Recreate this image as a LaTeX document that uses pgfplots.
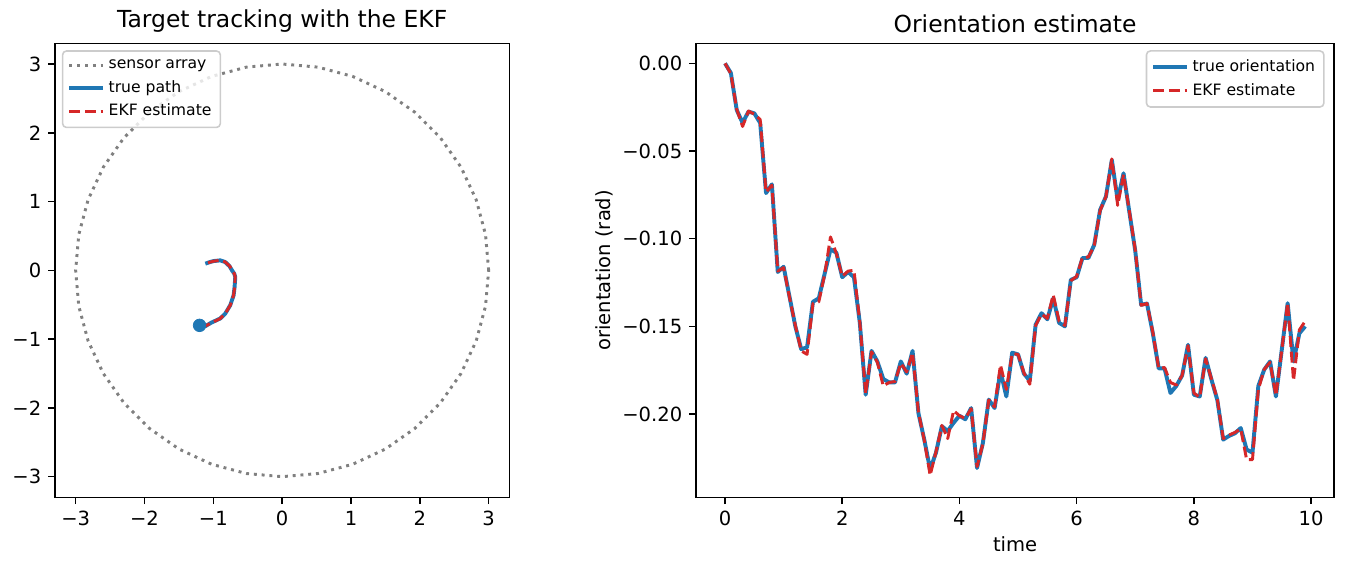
\documentclass[border=0pt]{standalone}
\usepackage{fontspec}
\setmainfont{DejaVu Sans}
\usepackage{pgfplots}
\usepackage{pgfplotstable}
\pgfplotsset{compat=1.18}
\definecolor{tabblue}{HTML}{1F77B4}
\definecolor{tabred}{HTML}{D62728}
\definecolor{leggray}{HTML}{CCCCCC}

\pgfplotstableread{
t v
0.0 0.000
0.1 -0.0055
0.2 -0.0266
0.3 -0.034
0.4 -0.0275
0.5 -0.0285
0.6 -0.034
0.7 -0.074
0.8 -0.069
0.9 -0.119
1.0 -0.116
1.1 -0.133
1.2 -0.150
1.3 -0.163
1.4 -0.162
1.5 -0.136
1.6 -0.134
1.7 -0.120
1.8 -0.106
1.9 -0.108
2.0 -0.122
2.1 -0.119
2.2 -0.122
2.3 -0.148
2.4 -0.189
2.5 -0.164
2.6 -0.170
2.7 -0.180
2.8 -0.182
2.9 -0.182
3.0 -0.170
3.1 -0.177
3.2 -0.164
3.3 -0.1995
3.4 -0.2146
3.5 -0.2317
3.6 -0.222
3.7 -0.207
3.8 -0.2097
3.9 -0.205
4.0 -0.201
4.1 -0.203
4.2 -0.1966
4.3 -0.2308
4.4 -0.2165
4.5 -0.1918
4.6 -0.1966
4.7 -0.1755
4.8 -0.190
4.9 -0.165
5.0 -0.166
5.1 -0.177
5.2 -0.181
5.3 -0.149
5.4 -0.1425
5.5 -0.146
5.6 -0.134
5.7 -0.148
5.8 -0.150
5.9 -0.1235
6.0 -0.122
6.1 -0.111
6.2 -0.111
6.3 -0.1035
6.4 -0.0836
6.5 -0.0759
6.6 -0.0551
6.7 -0.078
6.8 -0.0627
6.9 -0.085
7.0 -0.107
7.1 -0.1377
7.2 -0.137
7.3 -0.154
7.4 -0.174
7.5 -0.174
7.6 -0.188
7.7 -0.184
7.8 -0.178
7.9 -0.1605
8.0 -0.189
8.1 -0.190
8.2 -0.168
8.3 -0.1804
8.4 -0.192
8.5 -0.2146
8.6 -0.2125
8.7 -0.211
8.8 -0.208
8.9 -0.2203
9.0 -0.222
9.1 -0.184
9.2 -0.1747
9.3 -0.170
9.4 -0.190
9.5 -0.1633
9.6 -0.1368
9.7 -0.170
9.8 -0.154
9.9 -0.150
}\truetab

\pgfplotstableread{
t v
0.0 0.000
0.1 -0.0060
0.2 -0.0262
0.3 -0.036
0.4 -0.0272
0.5 -0.0290
0.6 -0.032
0.7 -0.0735
0.8 -0.0695
0.9 -0.1185
1.0 -0.1165
1.1 -0.1335
1.2 -0.1495
1.3 -0.1640
1.4 -0.166
1.5 -0.137
1.6 -0.136
1.7 -0.1205
1.8 -0.099
1.9 -0.1085
2.0 -0.1215
2.1 -0.1185
2.2 -0.118
2.3 -0.1475
2.4 -0.1885
2.5 -0.1645
2.6 -0.1705
2.7 -0.184
2.8 -0.1820
2.9 -0.1815
3.0 -0.1710
3.1 -0.1760
3.2 -0.1650
3.3 -0.1990
3.4 -0.2150
3.5 -0.235
3.6 -0.2215
3.7 -0.2065
3.8 -0.214
3.9 -0.198
4.0 -0.2010
4.1 -0.2025
4.2 -0.1970
4.3 -0.2300
4.4 -0.2170
4.5 -0.1920
4.6 -0.1960
4.7 -0.172
4.8 -0.186
4.9 -0.1655
5.0 -0.1660
5.1 -0.1765
5.2 -0.183
5.3 -0.1495
5.4 -0.1430
5.5 -0.1455
5.6 -0.132
5.7 -0.1470
5.8 -0.1495
5.9 -0.1240
6.0 -0.1215
6.1 -0.1105
6.2 -0.1105
6.3 -0.1040
6.4 -0.0840
6.5 -0.0760
6.6 -0.0545
6.7 -0.081
6.8 -0.0635
6.9 -0.0845
7.0 -0.1065
7.1 -0.1380
7.2 -0.1370
7.3 -0.1535
7.4 -0.1740
7.5 -0.1735
7.6 -0.182
7.7 -0.1835
7.8 -0.1780
7.9 -0.1610
8.0 -0.1880
8.1 -0.1905
8.2 -0.1685
8.3 -0.1800
8.4 -0.1915
8.5 -0.2140
8.6 -0.2120
8.7 -0.2105
8.8 -0.2085
8.9 -0.226
9.0 -0.226
9.1 -0.186
9.2 -0.1745
9.3 -0.1705
9.4 -0.1895
9.5 -0.1635
9.6 -0.1365
9.7 -0.181
9.8 -0.152
9.9 -0.147
}\ekftab

\pgfplotstableread{
x y
3.0000 0.0000
2.9544 0.5209
2.8191 1.0261
2.5981 1.5000
2.2981 1.9284
1.9284 2.2981
1.5000 2.5981
1.0261 2.8191
0.5209 2.9544
0.0000 3.0000
-0.5209 2.9544
-1.0261 2.8191
-1.5000 2.5981
-1.9284 2.2981
-2.2981 1.9284
-2.5981 1.5000
-2.8191 1.0261
-2.9544 0.5209
-3.0000 0.0000
-2.9544 -0.5209
-2.8191 -1.0261
-2.5981 -1.5000
-2.2981 -1.9284
-1.9284 -2.2981
-1.5000 -2.5981
-1.0261 -2.8191
-0.5209 -2.9544
0.0000 -3.0000
0.5209 -2.9544
1.0261 -2.8191
1.5000 -2.5981
1.9284 -2.2981
2.2981 -1.9284
2.5981 -1.5000
2.8191 -1.0261
2.9544 -0.5209
3.0000 0.0000
}\circtab

\pgfplotstableread{
x y
-1.200 -0.800
-1.116 -0.812
-1.034 -0.763
-0.899 -0.700
-0.826 -0.628
-0.754 -0.507
-0.705 -0.362
-0.691 -0.242
-0.681 -0.097
-0.696 -0.048
-0.729 0.000
-0.763 0.058
-0.826 0.120
-0.899 0.145
-0.995 0.135
-1.050 0.120
-1.116 0.097
}\pathtab

\pgfplotstableread{
x y
-1.200 -0.800
-1.116 -0.810
-1.030 -0.765
-0.900 -0.702
-0.824 -0.625
-0.752 -0.505
-0.707 -0.365
-0.689 -0.240
-0.683 -0.095
-0.694 -0.050
-0.731 0.003
-0.760 0.060
-0.828 0.122
-0.897 0.146
-0.998 0.133
-1.052 0.118
-1.118 0.095
}\ekfpathtab

\pgfplotsset{
  common/.style={
    scale only axis,
    axis line style={line width=0.8bp},
    tick align=outside,
    xtick pos=bottom, ytick pos=left,
    major tick length=3.5bp,
    every tick/.style={black, line width=0.8bp},
    tick label style={font=\fontsize{10}{12}\selectfont},
    label style={font=\fontsize{10}{12}\selectfont},
    title style={font=\fontsize{12}{14}\selectfont, yshift=-4bp},
    legend style={font=\fontsize{8}{10}\selectfont, draw=leggray, rounded corners=2bp, fill=white, fill opacity=0.8, text opacity=1, line width=0.8bp, row sep=0.5bp, inner sep=2.5bp},
    legend cell align=left,
    every axis plot/.append style={line join=round},
  }
}

\begin{document}
\begin{tikzpicture}
\path (0,0) rectangle (686.97bp,289.68bp);
\begin{axis}[common,
  at={(28.05bp,36.06bp)}, anchor=south west,
  width=231.7bp, height=231.5bp,
  xmin=-3.3, xmax=3.3, ymin=-3.3, ymax=3.3,
  xtick={-3,-2,-1,0,1,2,3}, ytick={-3,-2,-1,0,1,2,3},
  xticklabels={−3,−2,−1,0,1,2,3},
  yticklabels={−3,−2,−1,0,1,2,3},
  title={Target tracking with the EKF},
  legend style={at={(0.015,0.985)}, anchor=north west},
]
\addplot[color=gray, line width=1.5bp, dash pattern=on 1.5bp off 2.475bp] table[x=x,y=y] {\circtab};
\addlegendentry{sensor array}
\addplot[color=tabblue, line width=2bp] table[x=x,y=y] {\pathtab};
\addlegendentry{true path}
\addplot[color=tabred, line width=1.5bp, dash pattern=on 5.55bp off 2.4bp] table[x=x,y=y] {\ekfpathtab};
\addlegendentry{EKF estimate}
\addplot[only marks, mark=*, mark size=3.2bp, color=tabblue, forget plot] coordinates {(-1.2,-0.8)};
\end{axis}

\begin{axis}[common,
  at={(354.96bp,36.06bp)}, anchor=south west,
  width=325.5bp, height=231.5bp,
  xmin=-0.495, xmax=10.395, ymin=-0.2475, ymax=0.0114,
  xtick={0,2,4,6,8,10},
  xticklabels={0,2,4,6,8,10},
  ytick={0,-0.05,-0.10,-0.15,-0.20},
  yticklabels={0.00,−0.05,−0.10,−0.15,−0.20},
  title={Orientation estimate},
  xlabel={time}, ylabel={orientation (rad)},
  xlabel style={yshift=1.5bp},
  ylabel style={yshift=-2bp},
  legend style={at={(0.985,0.985)}, anchor=north east},
]
\addplot[color=tabblue, line width=2bp] table[x=t,y=v] {\truetab};
\addlegendentry{true orientation}
\addplot[color=tabred, line width=1.5bp, dash pattern=on 5.55bp off 2.4bp] table[x=t,y=v] {\ekftab};
\addlegendentry{EKF estimate}
\end{axis}
\end{tikzpicture}
\end{document}
